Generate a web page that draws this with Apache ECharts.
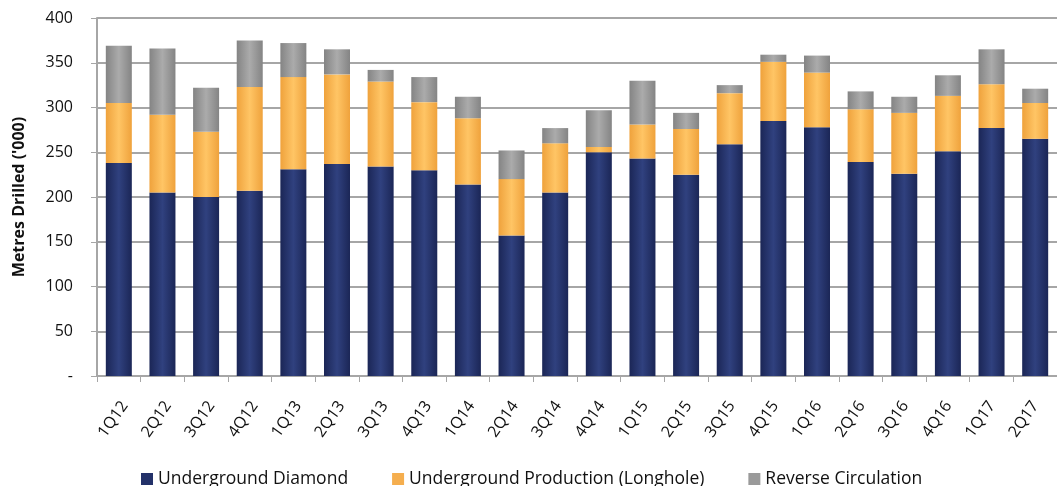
<!DOCTYPE html>
<html><head><meta charset="utf-8">
<script src="https://cdn.jsdelivr.net/npm/echarts@6/dist/echarts.min.js"></script>
<style>html,body{margin:0;padding:0;background:#fff}#c{width:1057px;height:486px}</style>
</head><body><div id="c"></div>
<script>
const categories = ['1Q12','2Q12','3Q12','4Q12','1Q13','2Q13','3Q13','4Q13','1Q14','2Q14','3Q14','4Q14','1Q15','2Q15','3Q15','4Q15','1Q16','2Q16','3Q16','4Q16','1Q17','2Q17'];
const undergroundDiamond = [238,205,200,207,231,237,234,230,214,157,205,250,243,225,259,285,278,239,226,251,277,265];
const undergroundLonghole = [67,87,73,116,103,100,95,76,74,63,55,6,38,51,57,66,61,59,68,62,49,40];
const reverseCirculation = [64,74,49,52,38,28,13,28,24,32,17,41,49,18,9,8,19,20,18,23,39,16];
const yTicks = [0,50,100,150,200,250,300,350,400];

function grad(edge, mid){
  return new echarts.graphic.LinearGradient(0,0,1,0,[
    {offset:0,color:edge},{offset:0.5,color:mid},{offset:1,color:edge}]);
}
const font = 'Open Sans, Liberation Sans, sans-serif';
const chart = echarts.init(document.getElementById('c'));
chart.setOption({
  animation:false,
  grid:[
    {left:97,top:18,width:968,height:358,containLabel:false},
    {left:103,top:18,width:968,height:358,containLabel:false}
  ],
  legend:{
    top:465,left:136,itemWidth:12,itemHeight:12,itemGap:44,icon:'rect',
    textStyle:{fontFamily:font,fontSize:17.5,color:'#111'},
    data:[
      {name:'Underground Diamond',itemStyle:{color:'#233169'}},
      {name:'Underground Production (Longhole)',itemStyle:{color:'#F5AE4E'}},
      {name:'Reverse Circulation',itemStyle:{color:'#9A9A9A'}}
    ]
  },
  xAxis:[{
    type:'category',data:categories,gridIndex:0,
    axisLine:{lineStyle:{color:'#A6A6A6',width:2}},
    axisTick:{show:true,alignWithLabel:false,length:6,lineStyle:{color:'#A6A6A6',width:1}},
    axisLabel:{show:false}
  },{
    type:'category',data:categories,gridIndex:1,
    axisLine:{show:false},axisTick:{show:false},
    axisLabel:{rotate:55,fontFamily:font,fontSize:16,color:'#111',margin:27,interval:0}
  }],
  yAxis:[{
    type:'value',min:0,max:400,interval:50,gridIndex:0,
    name:"Metres Drilled ('000)",nameLocation:'middle',nameGap:70,
    nameTextStyle:{fontFamily:font,fontSize:16,fontWeight:'bold',color:'#111'},
    axisLine:{show:true,lineStyle:{color:'#A6A6A6',width:2}},
    axisTick:{show:true,length:6,lineStyle:{color:'#A6A6A6'}},
    axisLabel:{fontFamily:font,fontSize:16,color:'#111',margin:24,
      formatter:v=> v===0?'-':String(v)},
    splitLine:{lineStyle:{color:'#A6A6A6',width:2}}
  },{
    type:'value',min:0,max:400,interval:50,gridIndex:1,show:false
  }],
  series:[
    {name:'Underground Diamond',type:'bar',stack:'s',barWidth:26,data:undergroundDiamond,
      itemStyle:{color:grad('#1B2656','#30417F')}},
    {name:'Underground Production (Longhole)',type:'bar',stack:'s',barWidth:26,data:undergroundLonghole,
      itemStyle:{color:grad('#EFA23C','#FFC565')}},
    {name:'Reverse Circulation',type:'bar',stack:'s',barWidth:26,data:reverseCirculation,
      itemStyle:{color:grad('#848484','#ABABAB')}}
  ]
});
</script></body></html>
